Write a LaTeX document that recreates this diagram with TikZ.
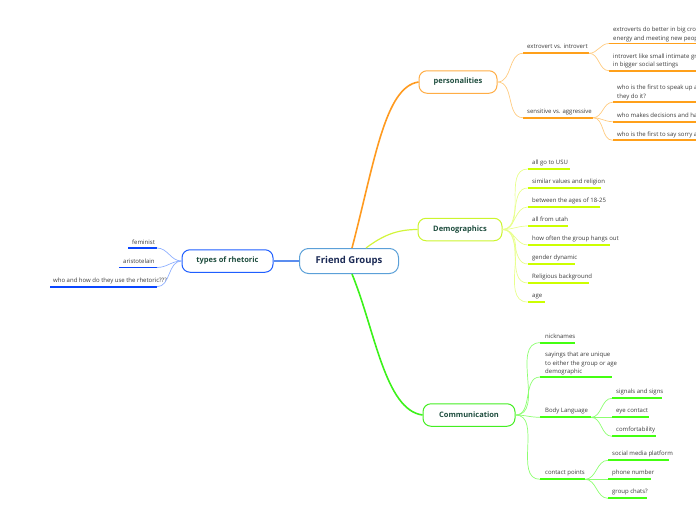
\documentclass[tikz,border=0pt]{standalone}
\usepackage{fontspec}
\setmainfont{Open Sans}
\definecolor{orM}{HTML}{FF9A1F}
\definecolor{orL}{HTML}{FFCB80}
\definecolor{orU}{HTML}{FFA01A}
\definecolor{orB}{HTML}{FFAD45}
\definecolor{ylM}{HTML}{D2F53A}
\definecolor{ylL}{HTML}{E8FF8C}
\definecolor{ylU}{HTML}{CCFF00}
\definecolor{ylB}{HTML}{CCF52E}
\definecolor{grM}{HTML}{3CF21A}
\definecolor{grL}{HTML}{8CFF70}
\definecolor{grU}{HTML}{44FF11}
\definecolor{grB}{HTML}{44EE22}
\definecolor{blM}{HTML}{5B8DEF}
\definecolor{blL}{HTML}{8FB0FF}
\definecolor{blU}{HTML}{0A46FF}
\definecolor{blB}{HTML}{1F5FFF}
\definecolor{rootB}{HTML}{5BA0D8}
\definecolor{rootT}{HTML}{1B2A55}
\definecolor{topT}{HTML}{1E4D3E}
\definecolor{leafT}{HTML}{3A3A3A}
\begin{document}
\begin{tikzpicture}[x=1pt,y=-1pt,
  leaf/.style={anchor=base west, inner sep=0pt, font=\fontsize{6}{8.8}\selectfont, text=leafT},
  mleaf/.style={leaf, anchor=south west, align=left},
  topic/.style={draw, rounded corners=8pt, line width=1pt, fill=white, inner sep=0pt,
    font=\fontsize{7.5}{9}\selectfont\bfseries, text=topT, minimum height=22.5pt},
  rootbox/.style={draw=rootB, rounded corners=9pt, line width=1pt, fill=white, inner sep=0pt,
    font=\fontsize{9.5}{11}\selectfont\bfseries, text=rootT, minimum height=25pt, minimum width=99pt},
  ul/.style={line width=1.7pt},
  br/.style={line width=0.7pt},
  mainline/.style={line width=1.6pt}
]
\useasboundingbox (0,0) rectangle (696,520);

% ---------- main nodes ----------
\node[rootbox] (root) at (349,261) {Friend Groups};
\node[topic, draw=blB, minimum width=91pt] (rhet) at (227.5,261) {types of rhetoric};
\node[topic, draw=orB, minimum width=78pt] (pers) at (458,82) {personalities};
\node[topic, draw=ylB, minimum width=84pt] (demo) at (460,229.5) {Demographics};
\node[topic, draw=grB, minimum width=92pt] (comm) at (469,415) {Communication};

% ---------- main connectors ----------
\draw[mainline, blM] (root.west) -- (rhet.east);
\draw[mainline, orM] ([xshift=3pt]root.north) .. controls (375,160) and (385,87) .. (pers.west);
\draw[mainline, ylM, line width=1.2pt] ([xshift=17pt]root.north) .. controls (382,236) and (396,229.5) .. (demo.west);
\draw[mainline, grM] ([xshift=3pt]root.south) .. controls (375,330) and (385,410) .. (comm.west);

% ---------- types of rhetoric ----------
\coordinate (femL) at (128,248); \coordinate (femR) at (157,248);
\coordinate (ariL) at (119,267.5); \coordinate (ariR) at (157,267.5);
\coordinate (whoL) at (50,286.7); \coordinate (whoR) at (157,286.7);
\foreach \a in {fem,ari,who}{\draw[ul, blU] (\a L) -- (\a R);}
\node[leaf] (fem) at (132,244) {feminist};
\node[leaf] (ari) at (123,263.2) {aristotelain};
\node[leaf] (who) at (53,282.4) {who and how do they use the rhetoric???};
\foreach \a in {fem,ari,who}{\draw[br, blL] (rhet.west) to[out=180,in=0] (\a R);}

% ---------- personalities ----------
\coordinate (extL) at (523,53.3); \coordinate (extR) at (589,53.3);
\coordinate (sensL) at (523,117.7); \coordinate (sensR) at (593,117.7);
\coordinate (eaL) at (609,43.5); \coordinate (eaR) at (696,43.5);
\coordinate (ebL) at (609,70.7); \coordinate (ebR) at (696,70.7);
\coordinate (saL) at (612.7,102.3); \coordinate (saR) at (696,102.3);
\coordinate (sbL) at (612.7,121.7); \coordinate (sbR) at (696,121.7);
\coordinate (scL) at (612.7,140.3); \coordinate (scR) at (696,140.3);
\foreach \a in {ext,sens,ea,eb,sa,sb,sc}{\draw[ul, orU] (\a L) -- (\a R);}
\node[leaf] (ext) at (527,48.8) {extrovert vs. introvert};
\node[leaf] (sens) at (527,113) {sensitive vs. aggressive};
\node[mleaf] (ea) at (613,42.3) {extroverts do better in big crow\\energy and meeting new peop};
\node[mleaf] (eb) at (613,68.6) {introvert like small intimate gr\\in bigger social settings};
\node[mleaf] (sa) at (617,100) {who is the first to speak up a\\they do it?};
\node[leaf] (sb) at (617,117.2) {who makes decisions and ha};
\node[leaf] (sc) at (617,136) {who is the first to say sorry a};
\draw[br, orL] (pers.east) to[out=0,in=180] (extL);
\draw[br, orL] (pers.east) to[out=0,in=180] (sensL);
\draw[br, orL] (extR) to[out=0,in=180] (eaL);
\draw[br, orL] (extR) to[out=0,in=180] (ebL);
\draw[br, orL] (sensR) to[out=0,in=180] (saL);
\draw[br, orL] (sensR) to[out=0,in=180] (sbL);
\draw[br, orL] (sensR) to[out=0,in=180] (scL);

% ---------- demographics ----------
\foreach \n/\t/\r [count=\k from 0] in {
  da/all go to USU/570,
  db/similar values and religion/600.7,
  dc/between the ages of 18-25/600,
  dd/all from utah/567.7,
  de/how often the group hangs out/610,
  df/gender dynamic/575,
  dg/Religious background/589.3,
  dh/age/545}{
  \coordinate (\n L) at (527.7,169+19*\k);
  \coordinate (\n R) at (\r,169+19*\k);
  \draw[ul, ylU] (\n L) -- (\n R);
  \node[leaf] (\n) at (532,164.6+19*\k) {\t};
  \draw[br, ylL] (demo.east) to[out=0,in=180] (\n L);
}

% ---------- communication ----------
\coordinate (nickL) at (540,342.7); \coordinate (nickR) at (575,342.7);
\coordinate (sayL) at (540,377); \coordinate (sayR) at (611.7,377);
\coordinate (bodyL) at (540,417.3); \coordinate (bodyR) at (591,417.3);
\coordinate (contL) at (540,479.3); \coordinate (contR) at (585,479.3);
\coordinate (sigL) at (612,398.3); \coordinate (sigR) at (661.7,398.3);
\coordinate (eyeL) at (612,417.3); \coordinate (eyeR) at (648.7,417.3);
\coordinate (comfL) at (612,436.3); \coordinate (comfR) at (655.7,436.3);
\coordinate (socL) at (608,460.3); \coordinate (socR) at (669,460.3);
\coordinate (phL) at (608,479.3); \coordinate (phR) at (650.7,479.3);
\coordinate (gcL) at (608,498.3); \coordinate (gcR) at (647,498.3);
\foreach \a in {nick,say,body,cont,sig,eye,comf,soc,ph,gc}{\draw[ul, grU] (\a L) -- (\a R);}
\node[leaf] (nick) at (545,338) {nicknames};
\node[mleaf] (say) at (545,375.6) {sayings that are unique\\to either the group or age\\demographic};
\node[leaf] (body) at (545,412.8) {Body Language};
\node[leaf] (cont) at (545,474.8) {contact points};
\node[leaf] (sig) at (616,393.8) {signals and signs};
\node[leaf] (eye) at (616,412.8) {eye contact};
\node[leaf] (comf) at (616,431.8) {comfortability};
\node[leaf] (soc) at (612,455.8) {social media platform};
\node[leaf] (ph) at (612,474.8) {phone number};
\node[leaf] (gc) at (612,493.8) {group chats?};
\foreach \a in {nick,say,body,cont}{\draw[br, grL] (comm.east) to[out=0,in=180] (\a L);}
\foreach \a in {sig,eye,comf}{\draw[br, grL] (bodyR) to[out=0,in=180] (\a L);}
\foreach \a in {soc,ph,gc}{\draw[br, grL] (contR) to[out=0,in=180] (\a L);}
\end{tikzpicture}
\end{document}
